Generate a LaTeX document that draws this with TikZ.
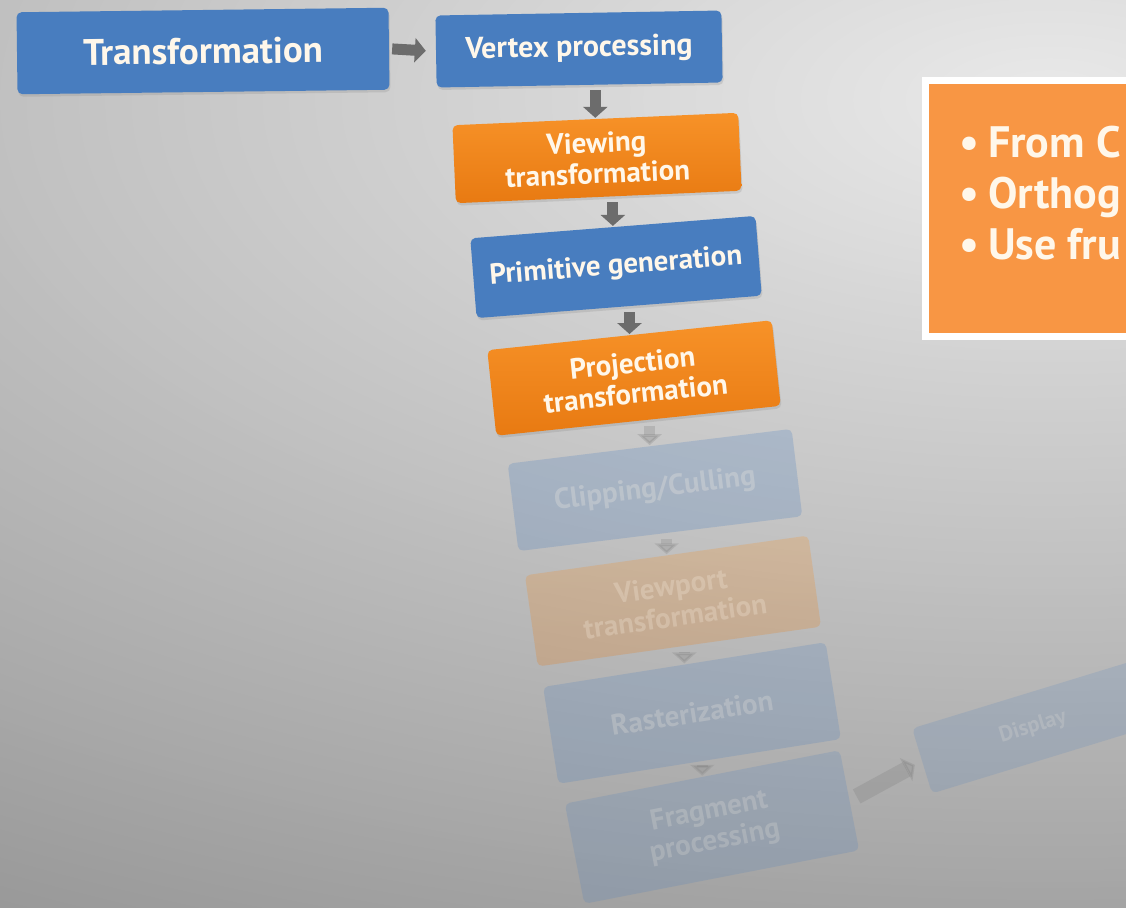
\documentclass[tikz,border=0pt]{standalone}
\usepackage{fontspec}
\setmainfont{PT Sans}
\usetikzlibrary{arrows.meta,shadows}

\definecolor{stepblue}{RGB}{72,125,191}
\definecolor{orangetop}{RGB}{247,146,40}
\definecolor{orangebot}{RGB}{232,122,18}
\definecolor{noteorange}{RGB}{248,150,68}
\definecolor{arrowgray}{RGB}{108,108,108}
\definecolor{textcream}{RGB}{255,247,234}
\definecolor{bgA}{gray}{0.915}
\definecolor{bgB}{gray}{0.595}

\newcommand{\fs}[2]{\fontsize{#1}{#2}\selectfont}

\tikzset{
  stagebox/.style={rounded corners=5pt, align=center, inner sep=0pt,
    text=textcream, font=\bfseries\fs{29}{31}, minimum width=286pt},
  bluestage/.style={stagebox, fill=stepblue},
  orangestage/.style={stagebox, top color=orangetop, bottom color=orangebot},
  lifted/.style={drop shadow={shadow xshift=1pt, shadow yshift=-2.5pt, opacity=0.22}},
  faded/.style={opacity=#1},
  flowarrow/.style={draw=arrowgray, line width=11pt,
    -{Triangle[width=24pt,length=11pt]}},
  notetext/.style={anchor=base west, inner sep=0pt, text=textcream,
    font=\bfseries\fs{44}{51}}
}

\begin{document}
\begin{tikzpicture}[x=1pt, y=-1pt]
\useasboundingbox (0,0) rectangle (1126,907);

\begin{scope}
\clip (0,0) rectangle (1126,907);

% backdrop: elliptical grey gradient, lightest towards the upper right
\foreach \k in {160,159,...,1}{
  \pgfmathsetmacro{\p}{100*\k/160}
  \fill[bgB!\p!bgA] (1050,100) ellipse [x radius={13.125*\k}, y radius={5.97*\k}];
}

% pipeline stages
\node[bluestage, lifted, minimum width=372pt, minimum height=82pt,
  font=\bfseries\fs{37}{40}, rotate=0.7] (tr) at (203,51) {Transformation};
\node[bluestage, lifted, minimum height=72pt, font=\bfseries\fs{30}{32},
  rotate=1] (vp) at (579,49) {Vertex processing};
\node[orangestage, lifted, minimum height=78pt, rotate=2.5] (vt) at (597,158)
  {Viewing\\transformation};
\node[bluestage, lifted, minimum height=80pt,
  rotate=4.5] (pg) at (616,267) {Primitive generation};
\node[orangestage, lifted, minimum height=86pt, rotate=6] (pj) at (634,378)
  {Projection\\transformation};

\node[bluestage, faded=0.24, minimum height=88pt, rotate=7] (cc) at (655,490)
  {Clipping/Culling};
\node[orangestage, faded=0.24, minimum height=92pt, rotate=8] (vw) at (673,601)
  {Viewport\\transformation};
\node[bluestage, faded=0.21, minimum height=98pt, rotate=9] (rs) at (692,713)
  {Rasterization};
\node[bluestage, faded=0.19, minimum width=280pt, minimum height=102pt,
  rotate=11] (fp) at (712,827) {Fragment\\processing};
\node[bluestage, faded=0.17, minimum width=232pt, minimum height=68pt,
  font=\bfseries\fs{22}{24}, rotate=17] (dp) at (1033,727) {Display};

% connectors
\draw[flowarrow, shorten <=3pt, shorten >=10pt] (tr.east) -- (vp.west);
\draw[flowarrow, shorten <=5pt, shorten >=1pt] (vp.south -| vt.north) -- (vt.north);
\draw[flowarrow, shorten <=5pt, shorten >=1pt] (vt.south -| pg.north) -- (pg.north);
\draw[flowarrow, shorten <=5pt, shorten >=1pt] (pg.south -| pj.north) -- (pj.north);
\draw[flowarrow, opacity=0.22, shorten <=5pt, shorten >=1pt] (pj.south -| cc.north) -- (cc.north);
\draw[flowarrow, opacity=0.2, shorten <=5pt, shorten >=1pt] (cc.south -| vw.north) -- (vw.north);
\draw[flowarrow, opacity=0.2, shorten <=5pt, shorten >=1pt] (vw.south -| rs.north) -- (rs.north);
\draw[flowarrow, opacity=0.18, shorten <=5pt, shorten >=1pt] (rs.south -| fp.north) -- (fp.north);
\draw[flowarrow, line width=16pt, opacity=0.2, shorten <=8pt, shorten >=8pt,
  -{Triangle[width=26pt,length=10pt]}] (fp.east) -- (dp.west);

% note panel on the right
\node[anchor=north west, draw=white, line width=7pt, fill=noteorange,
  minimum width=250pt, minimum height=256pt, inner sep=0pt,
  drop shadow={shadow xshift=0pt, shadow yshift=-3pt, opacity=0.3}]
  (note) at (921.5,77) {};
\node[notetext] (n1) at (959,157) {\textbullet\hspace{9pt}From C};
\node[notetext] (n2) at (959,208) {\textbullet\hspace{9pt}Orthog};
\node[notetext] (n3) at (959,259) {\textbullet\hspace{9pt}Use fru};
\end{scope}
\end{tikzpicture}
\end{document}
